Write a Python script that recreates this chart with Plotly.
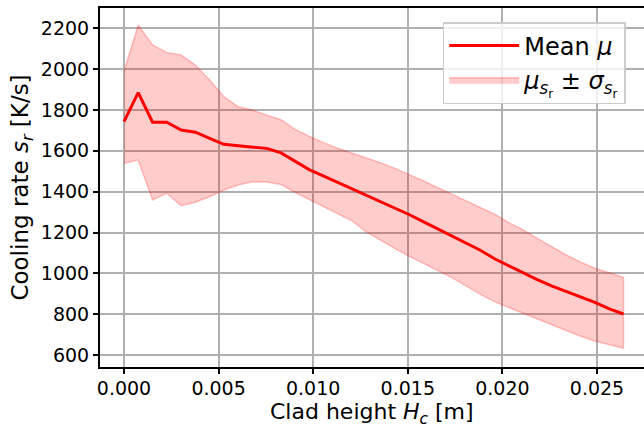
import plotly.graph_objects as go

# Clad height H_c [m]
clad_height = [0.0, 0.00075, 0.00151, 0.00226, 0.00302, 0.00377, 0.00453, 0.00528, 0.00603,
               0.00679, 0.00754, 0.00830, 0.00905, 0.00981, 0.01056, 0.01131, 0.01207, 0.01282,
               0.01358, 0.01433, 0.01509, 0.01584, 0.01659, 0.01735, 0.01810, 0.01886, 0.01961,
               0.02037, 0.02112, 0.02187, 0.02263, 0.02338, 0.02414, 0.02489, 0.02565, 0.02640]

# Mean cooling rate [K/s]
mean_rate = [1743, 1885, 1740, 1740, 1702, 1691, 1661, 1632, 1625,
             1620, 1612, 1590, 1548, 1507, 1476, 1445, 1414, 1382,
             1353, 1321, 1287, 1252, 1218, 1183, 1147, 1112, 1070,
             1035, 999, 968, 937, 910, 886, 858, 826, 801]

# mean + std
upper_rate = [1990, 2216, 2118, 2082, 2069, 2020, 1947, 1865, 1816,
              1800, 1775, 1752, 1705, 1670, 1640, 1612, 1588, 1565,
              1541, 1514, 1484, 1452, 1420, 1387, 1354, 1321, 1289,
              1247, 1212, 1170, 1128, 1090, 1055, 1025, 1003, 981]

# mean - std
lower_rate = [1539, 1555, 1359, 1392, 1331, 1348, 1375, 1408, 1433,
              1448, 1447, 1435, 1396, 1361, 1326, 1291, 1256, 1202,
              1161, 1121, 1083, 1048, 1014, 978, 937, 896, 860,
              832, 804, 776, 748, 720, 692, 668, 650, 633]

x_ticks = [0.000, 0.005, 0.010, 0.015, 0.020, 0.025]
x_tick_labels = ["0.000", "0.005", "0.010", "0.015", "0.020", "0.025"]
y_ticks = [600, 800, 1000, 1200, 1400, 1600, 1800, 2000, 2200]

FONT = "DejaVu Sans"

fig = go.Figure()

band_x = clad_height + clad_height[::-1]
band_y = upper_rate + lower_rate[::-1]

fig.add_trace(go.Scatter(
    x=band_x, y=band_y, mode="lines", fill="toself",
    fillcolor="rgba(255,0,0,0.2)",
    line=dict(color="rgba(255,0,0,0.22)", width=1.5),
    name="<i>μ</i><sub><i>s</i><sub>r</sub></sub> ± <i>σ</i><sub><i>s</i><sub>r</sub></sub>",
))
fig.add_trace(go.Scatter(
    x=clad_height, y=mean_rate, mode="lines",
    line=dict(color="#ff0000", width=3),
    name="Mean <i>μ</i>",
))

fig.update_layout(
    width=644, height=427,
    margin=dict(l=100, r=0, t=8, b=60),
    paper_bgcolor="white", plot_bgcolor="white",
    font=dict(family=FONT, size=19, color="black"),
    showlegend=True,
    legend=dict(
        x=0.63, y=0.961, xanchor="left", yanchor="top",
        bgcolor="rgba(255,255,255,0.8)", bordercolor="#cccccc", borderwidth=1.5,
        font=dict(family=FONT, size=24, color="black"),
        traceorder="reversed",
        itemwidth=70,
    ),
    annotations=[dict(
        text="Clad height <i>H<sub>c</sub></i> [m]",
        xref="paper", yref="paper", x=0.5, y=0,
        xanchor="center", yanchor="middle", yshift=-46,
        showarrow=False, font=dict(family=FONT, size=22, color="black"),
    )],
)

fig.update_xaxes(
    range=[-0.001268, 0.027484],
    tickmode="array", tickvals=x_ticks, ticktext=x_tick_labels,
    showgrid=True, gridcolor="#b0b0b0", gridwidth=2,
    showline=True, linecolor="black", linewidth=2, mirror=True,
    ticks="outside", ticklen=5, tickwidth=1.5, tickcolor="black",
    tickfont=dict(family=FONT, size=19),
    ticklabelstandoff=-2,
    zeroline=False, automargin=False,
)
fig.update_yaxes(
    range=[541.4, 2299.4],
    tickmode="array", tickvals=y_ticks,
    showgrid=True, gridcolor="#b0b0b0", gridwidth=2,
    showline=True, linecolor="black", linewidth=2, mirror=False,
    ticks="outside", ticklen=5, tickwidth=1.5, tickcolor="black",
    tickfont=dict(family=FONT, size=19),
    zeroline=False, automargin=False,
    title=dict(text="Cooling rate <i>s<sub>r</sub></i> [K/s]", font=dict(family=FONT, size=23), standoff=6),
)

fig.write_html("out.html")
